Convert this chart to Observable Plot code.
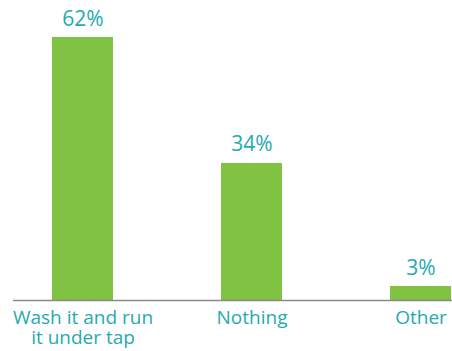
<!DOCTYPE html>
<html>
<head>
<meta charset="utf-8">
<script src="https://cdn.jsdelivr.net/npm/d3@7"></script>
<script src="https://cdn.jsdelivr.net/npm/@observablehq/plot@0.6"></script>
<style>
  html, body { margin: 0; padding: 0; background: #fff; }
  #chart svg { display: block; }
</style>
</head>
<body>
<div id="chart"></div>
<script>
const categories = ["Wash it and run\nit under tap", "Nothing", "Other"];
const values = [62, 32.3, 3.3];           // bar heights
const valueLabels = ["62%", "34%", "3%"]; // printed labels

const data = categories.map((c, i) => ({category: c, value: values[i], label: valueLabels[i]}));

const green = "#80c241";
const teal = "#26a9b1";

const chart = Plot.plot({
  width: 452,
  height: 351,
  marginTop: 37,
  marginBottom: 51,
  marginLeft: 13,
  marginRight: 0,
  style: {fontFamily: "'Open Sans', sans-serif", background: "#fff"},
  x: {domain: categories, range: [51, 452], paddingInner: 0.641, paddingOuter: 0},
  y: {domain: [0, 62], axis: null},
  marks: [
    Plot.barY(data, {x: "category", y: "value", fill: green}),
    Plot.ruleY([0], {stroke: "#8a8a8a", strokeWidth: 1.5}),
    Plot.text(data, {x: "category", y: "value", text: "label", dy: -12, lineAnchor: "bottom", fill: teal, fontSize: 21}),
    Plot.axisX({tickSize: 0, tickPadding: 9, fill: teal, fontSize: 19, lineHeight: 1.06, label: null})
  ]
});
document.getElementById("chart").appendChild(chart);
</script>
</body>
</html>
